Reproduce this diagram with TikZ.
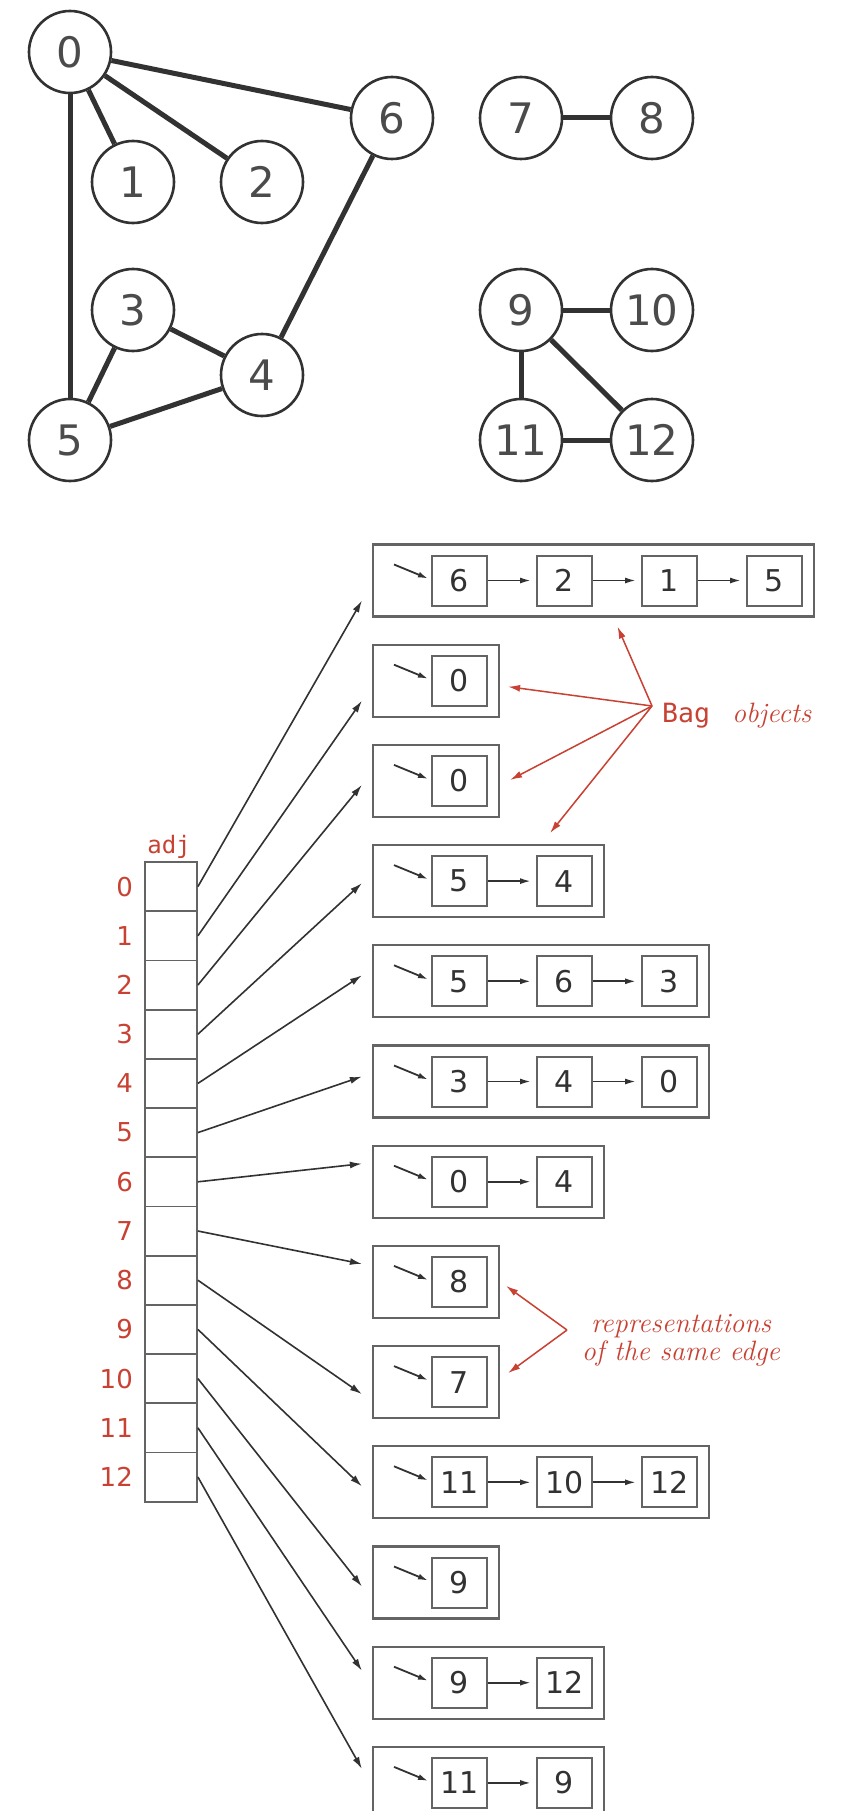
\documentclass[tikz,border=0pt]{standalone}
\usepackage{fontspec}
\newfontfamily\dvsans{DejaVu Sans}
\newfontfamily\dvmono{DejaVu Sans Mono}
\usetikzlibrary{arrows.meta,calc}
\definecolor{ink}{RGB}{50,50,50}
\definecolor{vlabel}{RGB}{75,75,75}
\definecolor{boxline}{RGB}{100,100,100}
\definecolor{note}{RGB}{200,65,50}

\begin{document}
\begin{tikzpicture}[x=1pt,y=-1pt,
  vertex/.style={circle,draw=ink,line width=2.6pt,fill=white,minimum size=82pt,
    inner sep=0pt,font=\dvsans\fontsize{42}{42}\selectfont,text=vlabel},
  gedge/.style={draw=ink,line width=5pt},
  cell/.style={draw=boxline,line width=1.8pt,minimum width=52pt,
    minimum height=49.2pt,inner sep=0pt},
  idx/.style={anchor=east,inner sep=0pt,text=note,font=\dvsans\fontsize{26}{26}\selectfont},
  bagbox/.style={draw=boxline,line width=2.2pt,minimum height=72pt,inner sep=0pt},
  itembox/.style={draw=boxline,line width=2pt,minimum width=55pt,minimum height=50pt,
    inner sep=0pt,font=\dvsans\fontsize{30}{30}\selectfont,text=ink},
  ptr/.style={draw=ink,line width=1.6pt,-{Latex[length=12pt,width=7pt]}},
  link/.style={draw=ink,line width=1.8pt,-{Latex[length=11pt,width=6pt]},shorten >=5pt},
  headptr/.style={draw=ink,line width=1.8pt,-{Latex[length=10pt,width=6pt]}},
  notearrow/.style={draw=note,line width=1.5pt,-{Latex[length=12pt,width=7pt]}}
]
\useasboundingbox (0,0) rectangle (842,1811);
\clip (0,0) rectangle (842,1811);
\fill[white] (0,0) rectangle (842,1811);

% ---- the graph ----
\node[vertex] (v0) at (70,52) {0};
\node[vertex] (v1) at (133,182) {1};
\node[vertex] (v2) at (262,182) {2};
\node[vertex] (v6) at (392,118) {6};
\node[vertex] (v3) at (133,310) {3};
\node[vertex] (v4) at (262,375) {4};
\node[vertex] (v5) at (70,440) {5};
\node[vertex] (v7) at (521,118) {7};
\node[vertex] (v8) at (652,118) {8};
\node[vertex] (v9) at (521,310) {9};
\node[vertex] (v10) at (652,310) {10};
\node[vertex] (v11) at (521,440) {11};
\node[vertex] (v12) at (652,440) {12};
\foreach \a/\b in {0/6,0/1,0/2,0/5,6/4,3/4,3/5,5/4,7/8,9/10,9/11,9/12,11/12}
  \draw[gedge] (v\a) -- (v\b);

% ---- the adj array ----
\node[anchor=base,inner sep=0pt,text=note,font=\dvmono\fontsize{24}{24}\selectfont]
  (adjlbl) at (169,853) {adj};
\foreach \i in {0,...,12}{
  \pgfmathsetmacro\ry{862+49.2*(\i+0.5)}
  \node[cell] (a\i) at (171,\ry) {};
  \node[idx] (n\i) at (133,\ry) {\i};
}

% ---- the Bag objects ----
\foreach \i/\n/\lst/\dy in {0/4/{6,2,1,5}/20, 1/1/{0}/20, 2/1/{0}/4, 3/2/{5,4}/2,
    4/3/{5,6,3}/-6, 5/3/{3,4,0}/-5, 6/2/{0,4}/-18, 7/1/{8}/-18, 8/1/{7}/12,
    9/3/{11,10,12}/4, 10/1/{9}/4, 11/2/{9,12}/-12, 12/2/{11,9}/-14}{
  \pgfmathsetmacro\cy{580.5+100.2*\i}
  \pgfmathsetmacro\bw{126+105*(\n-1)}
  \node[bagbox,minimum width=\bw pt] (bag\i) at (373+\bw/2,\cy) {};
  \foreach \v [count=\k, remember=\k as \pk (initially 0)] in \lst {
    \node[itembox] (b\i-\k) at (459.5+105*\k-105,\cy) {\v};
    \ifnum\pk>0 \draw[link] (b\i-\pk) -- (b\i-\k); \fi
  }
  \coordinate (h\i) at ($(b\i-1.west)+(-37,-16)$);
  \draw[headptr] (h\i) -- ($(b\i-1.west)+(-3,-2)$);
  \draw[ptr] (a\i.east) -- ($(bag\i.west)+(-10,\dy)$);
}

% ---- annotations ----
\coordinate (fanA) at (652,706);
\draw[notearrow] (fanA) -- ($(bag0.south)+(24,9)$);
\draw[notearrow] (fanA) -- ($(bag1.east)+(8,6)$);
\draw[notearrow] (fanA) -- ($(bag2.east)+(10,-1)$);
\draw[notearrow] (fanA) -- ($(bag3.north east)+(-55,-11)$);
\node[anchor=base west,inner sep=0pt,text=note] (baglbl) at (662,722)
  {{\dvmono\fontsize{26.5}{26.5}\selectfont Bag}\hspace{22pt}{\itshape\fontsize{28}{28}\selectfont objects}};

\coordinate (fanB) at (567,1330);
\draw[notearrow] (fanB) -- ($(bag7.east)+(6,4)$);
\draw[notearrow] (fanB) -- ($(bag8.east)+(8,-9)$);
\node[text=note,align=center,inner sep=0pt,font=\itshape\fontsize{28}{28}\selectfont]
  (replbl) at (681,1340) {representations\\of the same edge};
\end{tikzpicture}
\end{document}
